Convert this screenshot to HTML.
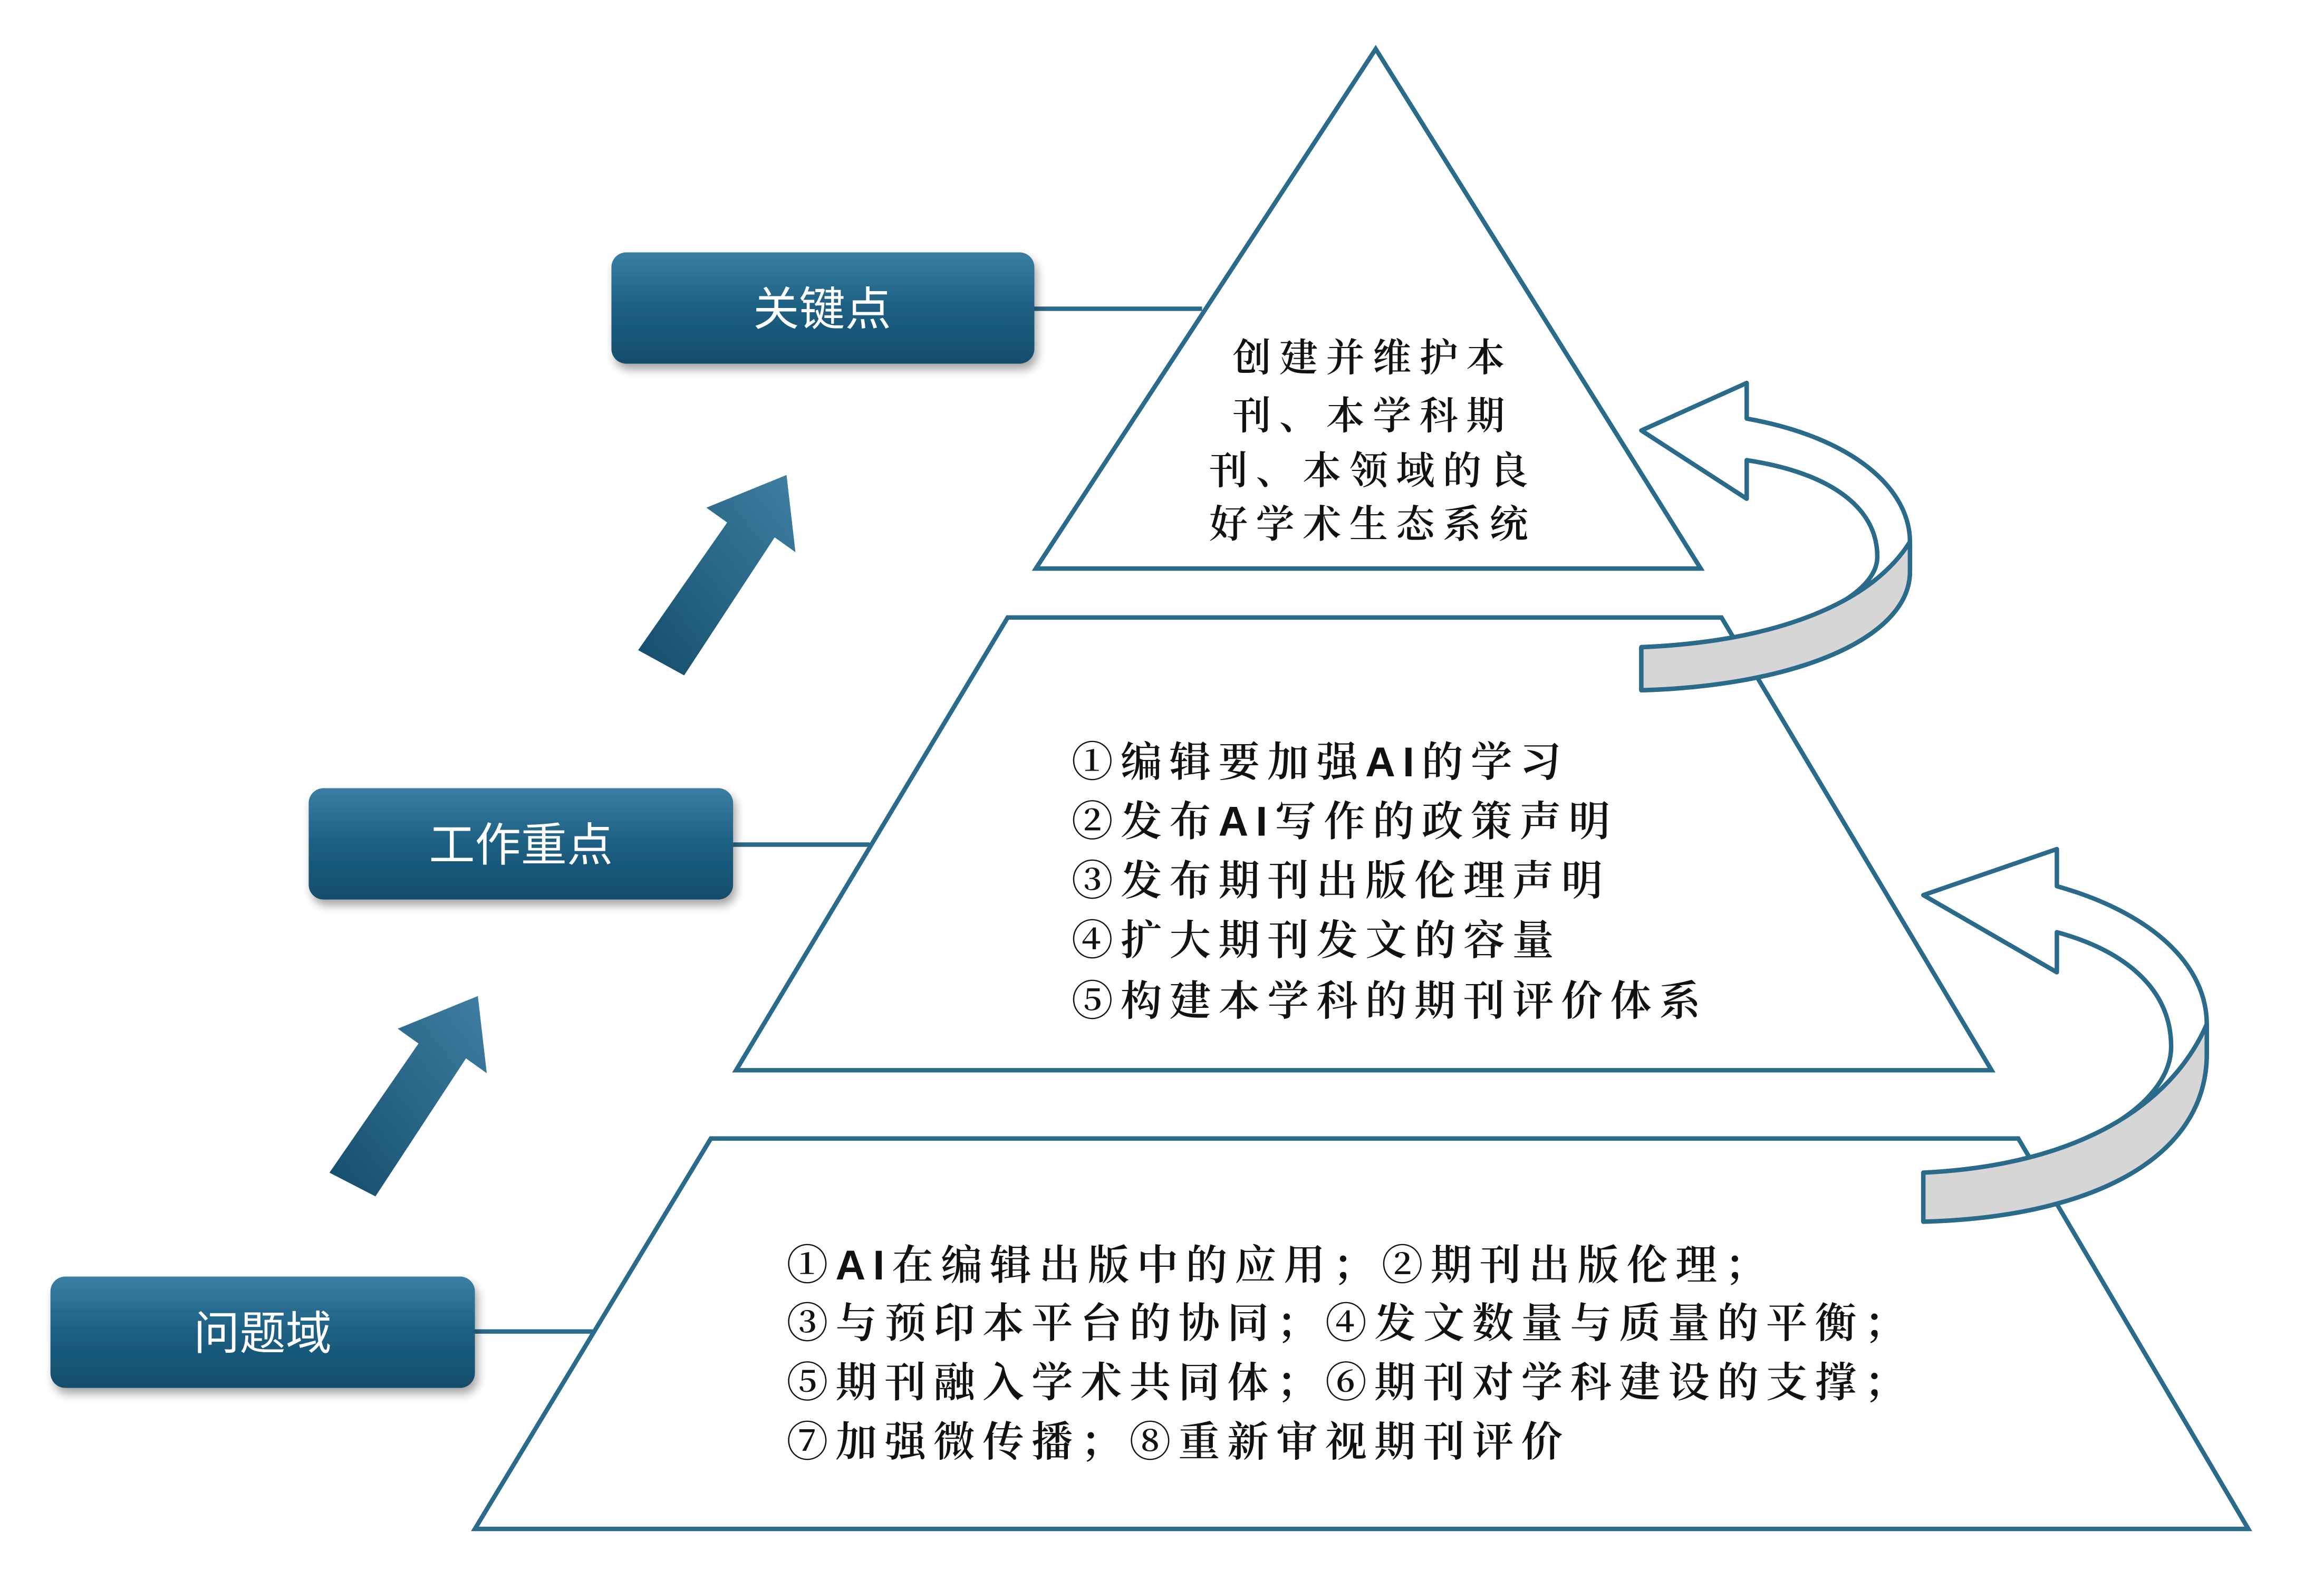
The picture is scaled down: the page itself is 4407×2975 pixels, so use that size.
<!DOCTYPE html>
<html><head><meta charset="utf-8"><style>
html,body{margin:0;padding:0;background:#fff}
svg{display:block}
text{font-family:"Liberation Sans","Noto Serif CJK SC","Noto Sans CJK SC",serif;fill:#111;font-weight:600}
.bt{font-family:"Liberation Sans","Noto Sans CJK SC",sans-serif;fill:#fff;font-size:31px;font-weight:400}
</style></head><body>
<svg width="4407" height="2975" viewBox="0 0 1566 1057" preserveAspectRatio="none" xmlns="http://www.w3.org/2000/svg">
<defs>
<linearGradient id="g" x1="0" y1="0" x2="0" y2="1">
<stop offset="0" stop-color="#3a7fa3"/><stop offset="0.5" stop-color="#1c5f82"/><stop offset="1" stop-color="#134d6c"/>
</linearGradient>
<linearGradient id="ga" x1="0" y1="1" x2="1" y2="0">
<stop offset="0" stop-color="#134d6c"/><stop offset="1" stop-color="#3f7fa2"/>
</linearGradient>
<filter id="sh" x="-10%" y="-10%" width="130%" height="140%"><feDropShadow dx="2" dy="4" stdDeviation="3" flood-color="#000" flood-opacity="0.35"/></filter>
</defs>
<g fill="none" stroke="#2a6a8a" stroke-width="3">
<polygon points="927,33 698,383 1146,383"/>
<polygon points="679,416 1160,416 1342,721 496,721"/>
<polygon points="479,767 1360,767 1515,1030 320,1030"/>
<line x1="697" y1="208" x2="810" y2="208"/>
<line x1="494" y1="569" x2="586" y2="569"/>
<line x1="320" y1="897" x2="400" y2="897"/>
</g>
<g filter="url(#sh)">
<rect x="412" y="170" width="285" height="75" rx="10" fill="url(#g)"/>
<rect x="208" y="531" width="286" height="75" rx="10" fill="url(#g)"/>
<rect x="34" y="860" width="286" height="75" rx="10" fill="url(#g)"/>
</g>
<text class="bt" x="554" y="219" text-anchor="middle">关键点</text>
<text class="bt" x="351" y="580" text-anchor="middle">工作重点</text>
<text class="bt" x="177" y="909" text-anchor="middle">问题域</text>
<polygon fill="url(#ga)" points="430,438 490,352 476,342 530,320 536,372 522,362 461,455"/>
<polygon fill="url(#ga)" points="222,790 282,703 268,693 322,671 328,723 314,713 253,806"/>
<g stroke="#2a6a8a" stroke-width="3" stroke-linejoin="round">
<path fill="#fff" d="M1106,290 L1177,258 L1177,282 C1250,295 1287,330 1287,365 L1287,385 C1287,430 1210,462 1106,465 L1106,436 C1200,432 1265,405 1265,375 C1265,340 1230,318 1177,310 L1177,336 Z"/>
<path fill="#d6d6d6" d="M1287,365 L1287,385 C1287,430 1210,462 1106,465 L1106,436 C1200,432 1262,405 1287,365 Z"/>
<path fill="#fff" d="M1296,603 L1386,572 L1386,597 C1450,615 1487,650 1487,690 L1487,710 C1487,780 1410,820 1296,823 L1296,790 C1400,785 1463,745 1463,705 C1463,665 1430,640 1386,628 L1386,655 Z"/>
<path fill="#d6d6d6" d="M1487,690 L1487,710 C1487,780 1410,820 1296,823 L1296,790 C1400,785 1463,745 1487,690 Z"/>
</g>
<g font-size="26" text-anchor="middle" letter-spacing="5.5">
<text x="925" y="250">创建并维护本</text>
<text x="925" y="289">刊、本学科期</text>
<text x="925" y="326">刊、本领域的良</text>
<text x="925" y="362">好学术生态系统</text>
</g>
<g font-size="28" letter-spacing="5">
<text x="722" y="523">①编辑要加强AI的学习</text>
<text x="722" y="563">②发布AI写作的政策声明</text>
<text x="722" y="603">③发布期刊出版伦理声明</text>
<text x="722" y="643">④扩大期刊发文的容量</text>
<text x="722" y="684">⑤构建本学科的期刊评价体系</text>
<text x="530" y="862">①AI在编辑出版中的应用；②期刊出版伦理；</text>
<text x="530" y="901">③与预印本平台的协同；④发文数量与质量的平衡；</text>
<text x="530" y="941">⑤期刊融入学术共同体；⑥期刊对学科建设的支撑；</text>
<text x="530" y="981">⑦加强微传播；⑧重新审视期刊评价</text>
</g>
</svg>
</body></html>
